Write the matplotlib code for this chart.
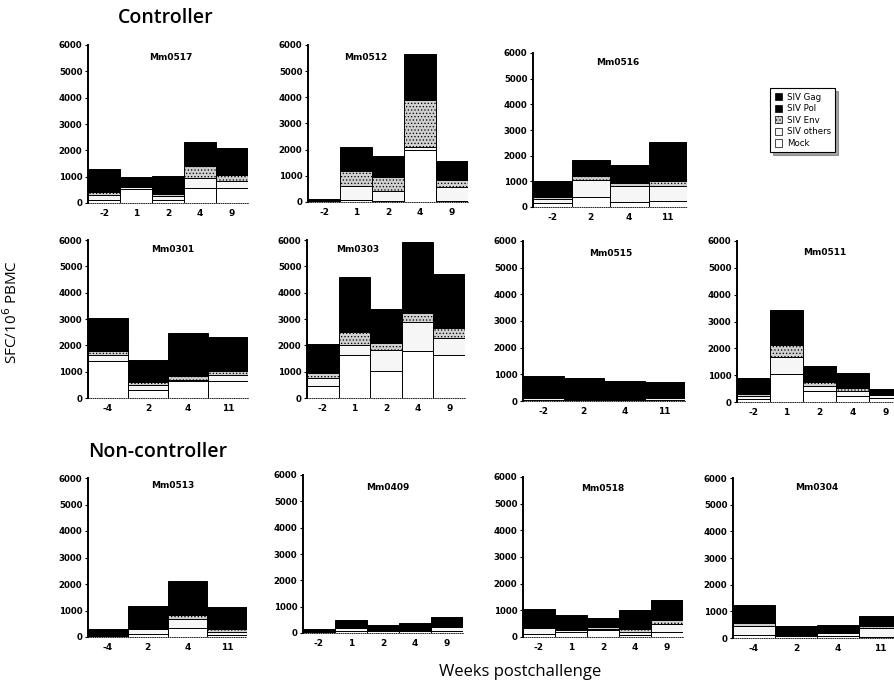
import matplotlib
matplotlib.use("Agg")
import matplotlib.pyplot as plt
from matplotlib.patches import Patch

# ---------------- data (SFC per 10^6 PBMC) ----------------
MM0517_WEEKS = ["-2", "1", "2", "4", "9"]
MM0517_MOCK = [120, 550, 125, 570, 570]
MM0517_OTHERS = [200, 50, 125, 380, 250]
MM0517_ENV = [80, 30, 100, 440, 255]
MM0517_POL = [350, 130, 280, 380, 400]
MM0517_GAG = [540, 210, 405, 565, 600]

MM0512_WEEKS = ["-2", "1", "2", "4", "9"]
MM0512_MOCK = [0, 60, 40, 2000, 50]
MM0512_OTHERS = [0, 540, 380, 100, 525]
MM0512_ENV = [0, 575, 540, 1790, 280]
MM0512_POL = [40, 370, 320, 700, 290]
MM0512_GAG = [60, 555, 470, 1085, 425]

MM0516_WEEKS = ["-2", "2", "4", "11"]
MM0516_MOCK = [150, 390, 195, 235]
MM0516_OTHERS = [170, 650, 610, 570]
MM0516_ENV = [70, 155, 130, 210]
MM0516_POL = [250, 250, 280, 600]
MM0516_GAG = [370, 375, 410, 920]

MM0301_WEEKS = ["-4", "2", "4", "11"]
MM0301_MOCK = [1390, 315, 630, 630]
MM0301_OTHERS = [250, 190, 65, 255]
MM0301_ENV = [150, 100, 125, 150]
MM0301_POL = [500, 340, 650, 520]
MM0301_GAG = [740, 505, 990, 780]

MM0303_WEEKS = ["-2", "1", "2", "4", "9"]
MM0303_MOCK = [470, 1615, 1035, 1790, 1615]
MM0303_OTHERS = [290, 405, 770, 1090, 655]
MM0303_ENV = [185, 505, 280, 340, 405]
MM0303_POL = [450, 830, 520, 1080, 810]
MM0303_GAG = [665, 1255, 780, 1610, 1225]

MM0515_WEEKS = ["-2", "2", "4", "11"]
MM0515_MOCK = [50, 30, 20, 40]
MM0515_OTHERS = [75, 30, 20, 60]
MM0515_ENV = [20, 0, 0, 0]
MM0515_POL = [310, 320, 290, 250]
MM0515_GAG = [470, 485, 435, 365]

MM0511_WEEKS = ["-2", "1", "2", "4", "9"]
MM0511_MOCK = [100, 1040, 395, 210, 150]
MM0511_OTHERS = [110, 620, 185, 185, 100]
MM0511_ENV = [90, 470, 150, 125, 0]
MM0511_POL = [240, 520, 240, 220, 100]
MM0511_GAG = [350, 780, 355, 340, 145]

MM0513_WEEKS = ["-4", "2", "4", "11"]
MM0513_MOCK = [0, 125, 340, 65]
MM0513_OTHERS = [0, 190, 355, 125]
MM0513_ENV = [0, 0, 150, 125]
MM0513_POL = [130, 340, 500, 330]
MM0513_GAG = [185, 520, 765, 490]

MM0409_WEEKS = ["-2", "1", "2", "4", "9"]
MM0409_MOCK = [0, 65, 60, 60, 65]
MM0409_OTHERS = [0, 125, 65, 65, 150]
MM0409_ENV = [0, 0, 0, 0, 0]
MM0409_POL = [65, 125, 65, 100, 150]
MM0409_GAG = [100, 190, 100, 155, 230]

MM0518_WEEKS = ["-2", "1", "2", "4", "9"]
MM0518_MOCK = [125, 200, 250, 65, 190]
MM0518_OTHERS = [215, 50, 65, 125, 310]
MM0518_ENV = [0, 0, 60, 125, 125]
MM0518_POL = [290, 240, 140, 275, 300]
MM0518_GAG = [430, 350, 210, 410, 450]

MM0304_WEEKS = ["-4", "2", "4", "11"]
MM0304_MOCK = [125, 60, 60, 50]
MM0304_OTHERS = [315, 65, 130, 325]
MM0304_ENV = [120, 0, 0, 65]
MM0304_POL = [280, 125, 125, 150]
MM0304_GAG = [410, 190, 185, 220]

SERIES_NAMES = ["SIV Gag", "SIV Pol", "SIV Env", "SIV others", "Mock"]

# ---------------- layout ----------------
W, H = 894, 689
fig = plt.figure(figsize=(W / 100, H / 100), dpi=100)
fig.patch.set_facecolor("white")

TICK_FONT = "DejaVu Sans"
LABEL_FONT = "Open Sans"

styles = {
    "Mock": dict(facecolor="white", hatch=None),
    "SIV others": dict(facecolor="#f6f6f6", hatch=None),
    "SIV Env": dict(facecolor="#cfcfcf", hatch="....."),
    "SIV Pol": dict(facecolor="black", hatch=None),
    "SIV Gag": dict(facecolor="black", hatch=None),
}

# (name, weeks, mock, others, env, pol, gag, pixel box x0,x1,y0,y1, title x frac, title y frac)
panels = [
    ("Mm0517", MM0517_WEEKS, MM0517_MOCK, MM0517_OTHERS, MM0517_ENV, MM0517_POL, MM0517_GAG, (88, 248, 45, 203), 0.52, 0.92),
    ("Mm0512", MM0512_WEEKS, MM0512_MOCK, MM0512_OTHERS, MM0512_ENV, MM0512_POL, MM0512_GAG, (308, 468, 45, 202), 0.36, 0.92),
    ("Mm0516", MM0516_WEEKS, MM0516_MOCK, MM0516_OTHERS, MM0516_ENV, MM0516_POL, MM0516_GAG, (533, 687, 53, 207), 0.55, 0.94),
    ("Mm0301", MM0301_WEEKS, MM0301_MOCK, MM0301_OTHERS, MM0301_ENV, MM0301_POL, MM0301_GAG, (88, 248, 240, 398), 0.53, 0.94),
    ("Mm0303", MM0303_WEEKS, MM0303_MOCK, MM0303_OTHERS, MM0303_ENV, MM0303_POL, MM0303_GAG, (307, 465, 240, 398), 0.32, 0.94),
    ("Mm0515", MM0515_WEEKS, MM0515_MOCK, MM0515_OTHERS, MM0515_ENV, MM0515_POL, MM0515_GAG, (523, 685, 241, 401), 0.54, 0.925),
    ("Mm0511", MM0511_WEEKS, MM0511_MOCK, MM0511_OTHERS, MM0511_ENV, MM0511_POL, MM0511_GAG, (737, 902, 241, 402), 0.53, 0.93),
    ("Mm0513", MM0513_WEEKS, MM0513_MOCK, MM0513_OTHERS, MM0513_ENV, MM0513_POL, MM0513_GAG, (88, 247, 478, 637), 0.53, 0.955),
    ("Mm0409", MM0409_WEEKS, MM0409_MOCK, MM0409_OTHERS, MM0409_ENV, MM0409_POL, MM0409_GAG, (303, 463, 475, 633), 0.53, 0.92),
    ("Mm0518", MM0518_WEEKS, MM0518_MOCK, MM0518_OTHERS, MM0518_ENV, MM0518_POL, MM0518_GAG, (523, 683, 477, 637), 0.50, 0.93),
    ("Mm0304", MM0304_WEEKS, MM0304_MOCK, MM0304_OTHERS, MM0304_ENV, MM0304_POL, MM0304_GAG, (733, 901, 478, 638), 0.50, 0.94),
]

plt.rcParams["hatch.color"] = "#8a8a8a"
plt.rcParams["hatch.linewidth"] = 0.5

for name, weeks, mock, others, env, pol, gag, (x0, x1, y0, y1), tx, ty in panels:
    ax = fig.add_axes([x0 / W, 1 - y1 / H, (x1 - x0) / W, (y1 - y0) / H])
    xs = list(range(len(weeks)))
    bottom = [0] * len(weeks)
    for label, vals in (("Mock", mock), ("SIV others", others), ("SIV Env", env),
                        ("SIV Pol", pol), ("SIV Gag", gag)):
        st = styles[label]
        ax.bar(xs, vals, width=1.0, bottom=bottom, color=st["facecolor"],
               hatch=st["hatch"], edgecolor="black", linewidth=0.7, zorder=2)
        bottom = [b + v for b, v in zip(bottom, vals)]
    ax.set_xlim(-0.5, len(weeks) - 0.5)
    ax.set_ylim(0, 6000)
    ax.set_yticks(range(0, 6001, 1000))
    ax.set_xticks(xs)
    ax.set_xticklabels(weeks)
    ax.tick_params(axis="x", length=0, pad=4, labelsize=6.5)
    ax.tick_params(axis="y", length=2, width=0.8, pad=2, labelsize=6.2)
    for lab in ax.get_xticklabels() + ax.get_yticklabels():
        lab.set_fontfamily(TICK_FONT)
        lab.set_fontweight("bold")
    for s in ("top", "right"):
        ax.spines[s].set_visible(False)
    ax.spines["left"].set_linewidth(1.4)
    ax.spines["bottom"].set_linewidth(0.6)
    ax.spines["bottom"].set_linestyle(":")
    ax.set_facecolor("none")
    ax.text(tx, ty, name, transform=ax.transAxes, ha="center", va="center",
            fontsize=6.5, fontweight="bold", family=TICK_FONT)

# legend
handles = [Patch(facecolor=styles[n]["facecolor"], hatch=styles[n]["hatch"],
                 edgecolor="black", linewidth=0.5, label=n) for n in SERIES_NAMES]
leg = fig.legend(handles=handles, loc="upper left",
                 bbox_to_anchor=(766 / W, 1 - 84 / H),
                 frameon=True, fancybox=False, shadow=True, handlelength=0.9,
                 handleheight=0.9, handletextpad=0.5, borderpad=0.5,
                 labelspacing=0.3, prop={"family": TICK_FONT, "size": 6.2})
leg.get_frame().set_edgecolor("black")
leg.get_frame().set_linewidth(0.8)

# headings and axis labels
fig.text(118 / W, 1 - 18 / H, "Controller", ha="left", va="center",
         fontsize=14, family=LABEL_FONT, fontweight="semibold")
fig.text(88 / W, 1 - 452 / H, "Non-controller", ha="left", va="center",
         fontsize=14, family=LABEL_FONT, fontweight="semibold")
fig.text(12 / W, 1 - 312 / H, "SFC/10$^{6}$ PBMC", ha="center", va="center",
         rotation=90, fontsize=11, family=LABEL_FONT)
fig.text(520 / W, 1 - 672 / H, "Weeks postchallenge", ha="center", va="center",
         fontsize=12, family=LABEL_FONT)

fig.savefig("out.png", dpi=100, facecolor="white")
